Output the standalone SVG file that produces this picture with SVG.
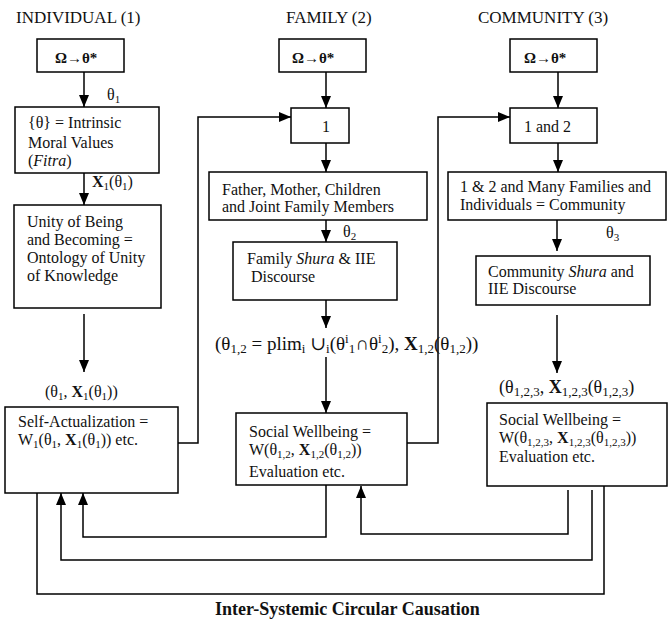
<svg xmlns="http://www.w3.org/2000/svg" width="671" height="622" viewBox="0 0 671 622">
<style>
.t{font-family:"Liberation Serif","Times New Roman","DejaVu Serif",serif;font-size:16px;fill:#111}
.h{font-size:17px}
.om{font-weight:bold;font-size:15px}
.f{font-size:19px}
.g{font-size:18px}
.bx{fill:#fff;stroke:#000;stroke-width:1.5}
.ln{fill:none;stroke:#000;stroke-width:1.5}
</style>
<defs>
<marker id="ah" viewBox="0 0 12 10" refX="12" refY="5" markerWidth="12" markerHeight="10" markerUnits="userSpaceOnUse" orient="auto">
<path d="M0,0 L12,5 L0,10 z" fill="#000"/>
</marker>
</defs>
<rect width="671" height="622" fill="#fff"/>

<g id="titles">
<text class="t h" x="16" y="23">INDIVIDUAL (1)</text>
<text class="t h" x="286" y="23">FAMILY (2)</text>
<text class="t h" x="478" y="23">COMMUNITY (3)</text>
<text class="t g" x="215" y="615" font-weight="bold">Inter-Systemic Circular Causation</text>
</g>

<g id="connectors">
<path class="ln" d="M84,72 V107" marker-end="url(#ah)"/>
<path class="ln" d="M84,173 V205" marker-end="url(#ah)"/>
<path class="ln" d="M84,314 V372" marker-end="url(#ah)"/>
<path class="ln" d="M178,443 H198 V117 H291" marker-end="url(#ah)"/>
<path class="ln" d="M326,72 V108" marker-end="url(#ah)"/>
<path class="ln" d="M326,132 V172" marker-end="url(#ah)"/>
<path class="ln" d="M326,207 V242" marker-end="url(#ah)"/>
<path class="ln" d="M326,300 V328" marker-end="url(#ah)"/>
<path class="ln" d="M326,357 V413" marker-end="url(#ah)"/>
<path class="ln" d="M407,443 H438 V117 H510" marker-end="url(#ah)"/>
<path class="ln" d="M558,72 V108" marker-end="url(#ah)"/>
<path class="ln" d="M558,143 V172" marker-end="url(#ah)"/>
<path class="ln" d="M557,197 V251" marker-end="url(#ah)"/>
<path class="ln" d="M557,315 V373" marker-end="url(#ah)"/>
<path class="ln" d="M326,480 V537 H83 V493" marker-end="url(#ah)"/>
<path class="ln" d="M568,490 V534 H361 V486" marker-end="url(#ah)"/>
<path class="ln" d="M592,490 V560 H61 V493" marker-end="url(#ah)"/>
<path class="ln" d="M37,493 V594 H604 V473" marker-end="url(#ah)"/>
</g>

<g id="labels">
<text class="t" x="107" y="100">θ<tspan font-size="11" dy="3">1</tspan></text>
<text class="t" x="92" y="187"><tspan font-weight="bold">X</tspan><tspan font-size="11" dy="3">1</tspan><tspan dy="-3">(θ</tspan><tspan font-size="11" dy="3">1</tspan><tspan dy="-3">)</tspan></text>
<text class="t" x="45" y="397">(θ<tspan font-size="11" dy="3">1</tspan><tspan dy="-3">, </tspan><tspan font-weight="bold">X</tspan><tspan font-size="11" dy="3">1</tspan><tspan dy="-3">(θ</tspan><tspan font-size="11" dy="3">1</tspan><tspan dy="-3">))</tspan></text>
<text class="t" x="343" y="237">θ<tspan font-size="11" dy="3">2</tspan></text>
<text class="t" x="606" y="238">θ<tspan font-size="11" dy="3">3</tspan></text>
<text class="t f" x="215" y="350">(θ<tspan font-size="13" dy="3">1,2</tspan><tspan dy="-3"> = plim</tspan><tspan font-size="13" dy="3">i</tspan><tspan dy="-3"> ∪</tspan><tspan font-size="13" dy="3">i</tspan><tspan dy="-3">(θ</tspan><tspan font-size="13" dy="-7">i</tspan><tspan font-size="13" dy="10">1</tspan><tspan dy="-3">∩θ</tspan><tspan font-size="13" dy="-7">i</tspan><tspan font-size="13" dy="10">2</tspan><tspan dy="-3">), </tspan><tspan font-weight="bold">X</tspan><tspan font-size="13" dy="3">1,2</tspan><tspan dy="-3">(θ</tspan><tspan font-size="13" dy="3">1,2</tspan><tspan dy="-3">))</tspan></text>
<text class="t g" x="499" y="393">(θ<tspan font-size="13" dy="3">1,2,3</tspan><tspan dy="-3">, </tspan><tspan font-weight="bold">X</tspan><tspan font-size="13" dy="3">1,2,3</tspan><tspan dy="-3">(θ</tspan><tspan font-size="13" dy="3">1,2,3</tspan><tspan dy="-3">)</tspan></text>
</g>

<g id="ind-omega">
<rect class="bx" x="37" y="39" width="87" height="33"/>
<text class="t om" x="55" y="63">Ω→θ*</text>
</g>
<g id="ind-values">
<rect class="bx" x="15" y="107" width="144" height="66"/>
<text class="t" x="28" y="128">{θ} = Intrinsic</text>
<text class="t" x="28" y="148">Moral Values</text>
<text class="t" x="28" y="166">(<tspan font-style="italic">Fitra</tspan>)</text>
</g>
<g id="ind-unity">
<rect class="bx" x="14" y="205" width="147" height="103"/>
<text class="t" x="27" y="227">Unity of Being</text>
<text class="t" x="27" y="245">and Becoming =</text>
<text class="t" x="27" y="263">Ontology of Unity</text>
<text class="t" x="27" y="281">of Knowledge</text>
</g>
<g id="ind-self">
<rect class="bx" x="5" y="407" width="173" height="86"/>
<text class="t" x="18" y="427">Self-Actualization =</text>
<text class="t" x="18" y="445">W<tspan font-size="11" dy="3">1</tspan><tspan dy="-3">(θ</tspan><tspan font-size="11" dy="3">1</tspan><tspan dy="-3">, </tspan><tspan font-weight="bold">X</tspan><tspan font-size="11" dy="3">1</tspan><tspan dy="-3">(θ</tspan><tspan font-size="11" dy="3">1</tspan><tspan dy="-3">)) etc.</tspan></text>
</g>

<g id="fam-omega">
<rect class="bx" x="279" y="39" width="87" height="33"/>
<text class="t om" x="292" y="63">Ω→θ*</text>
</g>
<g id="fam-one">
<rect class="bx" x="291" y="108" width="58" height="35"/>
<text class="t" x="322" y="132">1</text>
</g>
<g id="fam-members">
<rect class="bx" x="209" y="172" width="218" height="48"/>
<text class="t" x="222" y="195">Father, Mother, Children</text>
<text class="t" x="222" y="212">and Joint Family Members</text>
</g>
<g id="fam-shura">
<rect class="bx" x="233" y="242" width="164" height="58"/>
<text class="t" x="247" y="264">Family <tspan font-style="italic">Shura</tspan> &amp; IIE</text>
<text class="t" x="251" y="282">Discourse</text>
</g>
<g id="fam-wellbeing">
<rect class="bx" x="236" y="413" width="171" height="72"/>
<text class="t" x="249" y="437">Social Wellbeing =</text>
<text class="t" x="249" y="455">W(θ<tspan font-size="11" dy="3">1,2</tspan><tspan dy="-3">, </tspan><tspan font-weight="bold">X</tspan><tspan font-size="11" dy="3">1,2</tspan><tspan dy="-3">(θ</tspan><tspan font-size="11" dy="3">1,2</tspan><tspan dy="-3">))</tspan></text>
<text class="t" x="249" y="477">Evaluation etc.</text>
</g>

<g id="com-omega">
<rect class="bx" x="510" y="39" width="87" height="33"/>
<text class="t om" x="524" y="63">Ω→θ*</text>
</g>
<g id="com-onetwo">
<rect class="bx" x="510" y="108" width="87" height="35"/>
<text class="t" x="524" y="132">1 and 2</text>
</g>
<g id="com-many">
<rect class="bx" x="448" y="172" width="218" height="48"/>
<text class="t" x="460" y="192">1 &amp; 2 and Many Families and</text>
<text class="t" x="460" y="210">Individuals = Community</text>
</g>
<g id="com-shura">
<rect class="bx" x="476" y="256" width="174" height="49"/>
<text class="t" x="488" y="277">Community <tspan font-style="italic">Shura</tspan> and</text>
<text class="t" x="488" y="294">IIE Discourse</text>
</g>
<g id="com-wellbeing">
<rect class="bx" x="487" y="403" width="180" height="83"/>
<text class="t" x="499" y="425">Social Wellbeing =</text>
<text class="t" x="499" y="443">W(θ<tspan font-size="11" dy="3">1,2,3</tspan><tspan dy="-3">, </tspan><tspan font-weight="bold">X</tspan><tspan font-size="11" dy="3">1,2,3</tspan><tspan dy="-3">(θ</tspan><tspan font-size="11" dy="3">1,2,3</tspan><tspan dy="-3">))</tspan></text>
<text class="t" x="499" y="462">Evaluation etc.</text>
</g>
</svg>
